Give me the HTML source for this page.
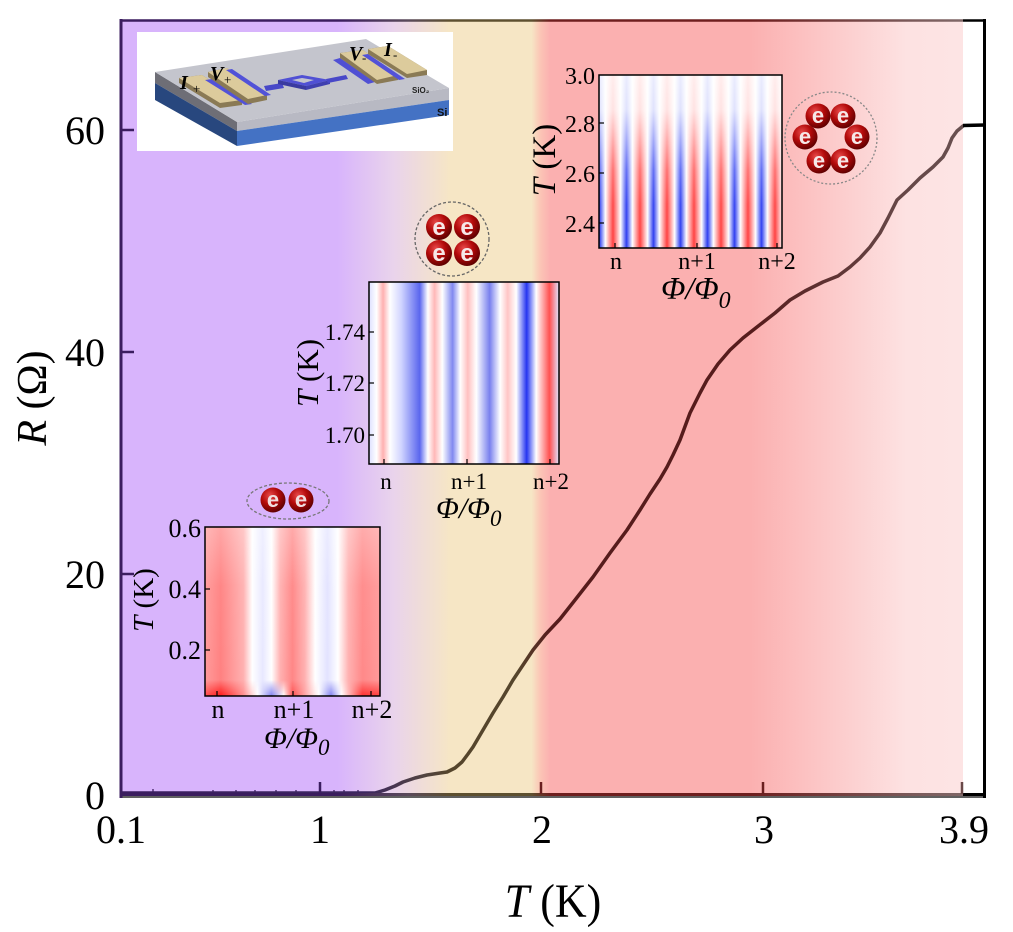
<!DOCTYPE html>
<html><head><meta charset="utf-8"><style>
html,body{margin:0;padding:0;background:#fff;}
svg{display:block;}
text{font-family:"Liberation Serif",serif;}
.s{font-family:"Liberation Sans",sans-serif;}
</style></head><body>
<svg width="1013" height="932" viewBox="0 0 1013 932" xmlns="http://www.w3.org/2000/svg">
<defs>
<linearGradient id="bg" gradientUnits="userSpaceOnUse" x1="122" y1="0" x2="963" y2="0">
 <stop offset="0" stop-color="#d8b4fc"/>
 <stop offset="0.256" stop-color="#d8b4fc"/>
 <stop offset="0.322" stop-color="#e9d3ec"/>
 <stop offset="0.39" stop-color="#f6e6c5"/>
 <stop offset="0.487" stop-color="#f6e6c5"/>
 <stop offset="0.497" stop-color="#fbc6b6"/>
 <stop offset="0.509" stop-color="#fbb0b0"/>
 <stop offset="0.747" stop-color="#fbb0b0"/>
 <stop offset="0.933" stop-color="#fde2e2"/>
 <stop offset="1" stop-color="#fde4e4"/>
</linearGradient>
<linearGradient id="ax" gradientUnits="userSpaceOnUse" x1="122" y1="0" x2="963" y2="0">
 <stop offset="0" stop-color="#3b1d5f"/>
 <stop offset="0.256" stop-color="#3b1d5f"/>
 <stop offset="0.34" stop-color="#5a4a5a"/>
 <stop offset="0.39" stop-color="#5e5030"/>
 <stop offset="0.487" stop-color="#5e5030"/>
 <stop offset="0.509" stop-color="#6e1f1f"/>
 <stop offset="0.747" stop-color="#6e1f1f"/>
 <stop offset="0.933" stop-color="#7a5858"/>
 <stop offset="1" stop-color="#806868"/>
</linearGradient>
<linearGradient id="cv" gradientUnits="userSpaceOnUse" x1="122" y1="0" x2="963" y2="0">
 <stop offset="0" stop-color="#3b1d5f"/>
 <stop offset="0.29" stop-color="#3d2860"/>
 <stop offset="0.36" stop-color="#524440"/>
 <stop offset="0.39" stop-color="#55452c"/>
 <stop offset="0.47" stop-color="#55452c"/>
 <stop offset="0.51" stop-color="#561c1c"/>
 <stop offset="0.75" stop-color="#561c1c"/>
 <stop offset="0.92" stop-color="#664646"/>
 <stop offset="1" stop-color="#685050"/>
</linearGradient>
<radialGradient id="ball" cx="0.38" cy="0.32" r="0.7">
 <stop offset="0" stop-color="#e84a4a"/>
 <stop offset="0.5" stop-color="#b30a0a"/>
 <stop offset="1" stop-color="#5e0000"/>
</radialGradient>
<linearGradient id="strp" x1="0" y1="0" x2="1" y2="0">
 <stop offset="0" stop-color="#2c3cf0"/>
 <stop offset="0.22" stop-color="#ffffff"/>
 <stop offset="0.5" stop-color="#ff4040"/>
 <stop offset="0.78" stop-color="#ffffff"/>
 <stop offset="1" stop-color="#2c3cf0"/>
</linearGradient>
<pattern id="tr" patternUnits="userSpaceOnUse" x="599.5" y="0" width="27" height="20">
 <rect x="0" y="0" width="27" height="20" fill="url(#strp)"/>
</pattern>
<linearGradient id="trfade" gradientUnits="userSpaceOnUse" x1="0" y1="75" x2="0" y2="248">
 <stop offset="0" stop-color="#fff" stop-opacity="0.9"/>
 <stop offset="0.2" stop-color="#fff" stop-opacity="0.85"/>
 <stop offset="0.35" stop-color="#fff" stop-opacity="0.6"/>
 <stop offset="0.55" stop-color="#fff" stop-opacity="0.25"/>
 <stop offset="0.75" stop-color="#fff" stop-opacity="0.05"/>
 <stop offset="1" stop-color="#fff" stop-opacity="0"/>
</linearGradient>
<linearGradient id="mid" gradientUnits="userSpaceOnUse" x1="369" y1="0" x2="559" y2="0">
 <stop offset="0" stop-color="#dde0ff"/>
 <stop offset="0.04" stop-color="#ffffff"/>
 <stop offset="0.074" stop-color="#ffb0b0"/>
 <stop offset="0.11" stop-color="#ffffff"/>
 <stop offset="0.17" stop-color="#d0d4ff"/>
 <stop offset="0.267" stop-color="#5a66ee"/>
 <stop offset="0.31" stop-color="#ffffff"/>
 <stop offset="0.345" stop-color="#ffb8b8"/>
 <stop offset="0.386" stop-color="#ffffff"/>
 <stop offset="0.44" stop-color="#8088f0"/>
 <stop offset="0.48" stop-color="#ffffff"/>
 <stop offset="0.52" stop-color="#ffc0c0"/>
 <stop offset="0.565" stop-color="#ffffff"/>
 <stop offset="0.635" stop-color="#7880ee"/>
 <stop offset="0.69" stop-color="#ffffff"/>
 <stop offset="0.73" stop-color="#ffc5c5"/>
 <stop offset="0.775" stop-color="#ffffff"/>
 <stop offset="0.83" stop-color="#2535f0"/>
 <stop offset="0.88" stop-color="#ffffff"/>
 <stop offset="0.95" stop-color="#ff5050"/>
 <stop offset="1" stop-color="#e0e4ff"/>
</linearGradient>
<linearGradient id="bot" gradientUnits="userSpaceOnUse" x1="205" y1="0" x2="380" y2="0">
 <stop offset="0" stop-color="#ff9a9a"/>
 <stop offset="0.09" stop-color="#ff8080"/>
 <stop offset="0.22" stop-color="#ffb0b0"/>
 <stop offset="0.27" stop-color="#ffffff"/>
 <stop offset="0.33" stop-color="#e8e8ff"/>
 <stop offset="0.38" stop-color="#ffffff"/>
 <stop offset="0.43" stop-color="#ffb0b0"/>
 <stop offset="0.5" stop-color="#ff8585"/>
 <stop offset="0.57" stop-color="#ffb0b0"/>
 <stop offset="0.63" stop-color="#ffffff"/>
 <stop offset="0.7" stop-color="#e2e2ff"/>
 <stop offset="0.76" stop-color="#ffffff"/>
 <stop offset="0.82" stop-color="#ffb0b0"/>
 <stop offset="0.9" stop-color="#ff8888"/>
 <stop offset="1" stop-color="#ff9999"/>
</linearGradient>
<linearGradient id="botstrong" gradientUnits="userSpaceOnUse" x1="205" y1="0" x2="380" y2="0">
 <stop offset="0" stop-color="#ff5050"/>
 <stop offset="0.09" stop-color="#ff1a1a"/>
 <stop offset="0.22" stop-color="#ff9090"/>
 <stop offset="0.3" stop-color="#ffffff"/>
 <stop offset="0.38" stop-color="#8080f0"/>
 <stop offset="0.45" stop-color="#ffffff"/>
 <stop offset="0.5" stop-color="#ff5050"/>
 <stop offset="0.58" stop-color="#ffb0b0"/>
 <stop offset="0.65" stop-color="#ffffff"/>
 <stop offset="0.72" stop-color="#8080f0"/>
 <stop offset="0.78" stop-color="#ffffff"/>
 <stop offset="0.9" stop-color="#ff3030"/>
 <stop offset="1" stop-color="#ff4040"/>
</linearGradient>
<linearGradient id="botfadeS" gradientUnits="userSpaceOnUse" x1="0" y1="680" x2="0" y2="696">
 <stop offset="0" stop-color="#fff" stop-opacity="0"/>
 <stop offset="1" stop-color="#fff" stop-opacity="1"/>
</linearGradient>
<mask id="bmask"><rect x="205" y="680" width="175" height="16" fill="url(#botfadeS)"/></mask>
<linearGradient id="botfade" gradientUnits="userSpaceOnUse" x1="0" y1="527" x2="0" y2="696">
 <stop offset="0" stop-color="#fff" stop-opacity="0.3"/>
 <stop offset="0.35" stop-color="#fff" stop-opacity="0.05"/>
 <stop offset="1" stop-color="#fff" stop-opacity="0"/>
</linearGradient>
</defs>

<!-- main background -->
<rect x="122" y="21" width="841" height="773" fill="url(#bg)"/>

<!-- device inset -->
<rect x="137" y="32" width="316" height="119" fill="#fff"/>
<polygon points="155,72 237,122 237,131 155,83" fill="#6e6e76"/>
<polygon points="155,83 237,131 237,146 155,100" fill="#28477e"/>
<polygon points="237,122 449,88 449,100 237,131" fill="#b8b9c3"/>
<polygon points="237,131 449,100 449,115 237,146" fill="#4472c4"/>
<polygon points="155,72 366,39 449,88 237,122" fill="#c4c5cd"/>
<!-- left pads -->
<polygon points="179,78 202,75 242,100 242,105 220,108 179,83" fill="#8a7a55"/>
<polygon points="179,78 202,75 242,100 220,103" fill="#dccb9c"/>
<polygon points="205,80 212,79 252,104 245,105" fill="#5252d8"/>
<polygon points="208,72 227,68 267,95 267,100 248,104 208,77" fill="#8a7a55"/>
<polygon points="208,72 227,68 267,95 248,99" fill="#dccb9c"/>
<polygon points="226,70 232,69 271,95 265,96" fill="#5252d8"/>
<!-- wires and ring -->
<polygon points="264,86 282,83 284,88 266,91" fill="#4848c8"/>
<polygon points="278,80 302,75 330,80 306,86" fill="#5050d4"/>
<polygon points="278,80 306,86 306,90 278,84" fill="#3a3aa0"/>
<polygon points="306,86 330,80 330,84 306,90" fill="#4040b0"/>
<polygon points="292,80 302,78 314,80 304,83" fill="#c4c5cd"/>
<polygon points="326,79 346,75 348,79 328,83" fill="#4848c8"/>
<polygon points="333,60 340,58 375,82 368,84" fill="#5050d4"/>
<!-- right pads -->
<polygon points="340,53 363,50 398,75 398,80 377,84 340,58" fill="#8a7a55"/>
<polygon points="340,53 363,50 398,75 377,80" fill="#dccb9c"/>
<polygon points="362,55 368,54 405,79 399,80" fill="#5252d8"/>
<polygon points="368,49 388,46 427,70 427,75 407,78 368,54" fill="#8a7a55"/>
<polygon points="368,49 388,46 427,70 407,74" fill="#dccb9c"/>
<text x="180" y="89" font-size="20" font-style="italic" font-weight="bold">I</text>
<text x="193" y="93" font-size="13">+</text>
<text x="210" y="80" font-size="20" font-style="italic" font-weight="bold">V</text>
<text x="224" y="84" font-size="13">+</text>
<text x="349" y="60" font-size="20" font-style="italic" font-weight="bold">V</text>
<text x="362" y="62" font-size="13">-</text>
<text x="384" y="56" font-size="20" font-style="italic" font-weight="bold">I</text>
<text x="393" y="59" font-size="13">-</text>
<text class="s" x="412" y="93" font-size="8" font-weight="bold" fill="#222">SiO₂</text>
<text class="s" x="437" y="116" font-size="11" font-weight="bold" fill="#111">Si</text>

<!-- top-right heatmap -->
<rect x="599" y="75" width="183" height="173" fill="url(#tr)"/>
<rect x="599" y="75" width="183" height="173" fill="url(#trfade)"/>
<rect x="599" y="75" width="183" height="173" fill="none" stroke="#000" stroke-width="1.5"/>
<g stroke="#000" stroke-width="1.2">
 <line x1="599" y1="123" x2="604" y2="123"/><line x1="599" y1="173" x2="604" y2="173"/><line x1="599" y1="223" x2="604" y2="223"/>
 <line x1="615" y1="248" x2="615" y2="243"/><line x1="697" y1="248" x2="697" y2="243"/><line x1="777" y1="248" x2="777" y2="243"/>
</g>
<g font-size="24" text-anchor="end">
 <text x="595" y="84">3.0</text><text x="595" y="132">2.8</text><text x="595" y="182">2.6</text><text x="595" y="232">2.4</text>
</g>
<g font-size="24" text-anchor="middle">
 <text x="616" y="269">n</text><text x="697" y="269">n+1</text><text x="777" y="269">n+2</text>
</g>
<text x="661" y="299" font-size="32" font-style="italic">Φ/Φ<tspan font-size="24" dy="9">0</tspan></text>
<text transform="translate(555,160) rotate(-90)" font-size="33" text-anchor="middle"><tspan font-style="italic">T</tspan> (K)</text>

<!-- 6 e cluster -->
<circle cx="831" cy="138" r="46" fill="none" stroke="#888" stroke-width="1.3" stroke-dasharray="2,2"/>
<circle cx="818" cy="116" r="12.5" fill="url(#ball)"/><circle cx="843" cy="116" r="12.5" fill="url(#ball)"/>
<circle cx="805" cy="137" r="12.5" fill="url(#ball)"/><circle cx="857" cy="137" r="12.5" fill="url(#ball)"/>
<circle cx="819" cy="161" r="12.5" fill="url(#ball)"/><circle cx="843" cy="161" r="12.5" fill="url(#ball)"/>
<g font-size="22" font-weight="bold" text-anchor="middle" fill="#f6e8e8">
<text class="s" x="818" y="123">e</text><text class="s" x="843" y="123">e</text>
<text class="s" x="805" y="144">e</text><text class="s" x="857" y="144">e</text>
<text class="s" x="819" y="168">e</text><text class="s" x="843" y="168">e</text>
</g>

<!-- 4 e cluster -->
<circle cx="452" cy="239" r="37" fill="none" stroke="#666" stroke-width="1.3" stroke-dasharray="3,2"/>
<circle cx="439" cy="227" r="13" fill="url(#ball)"/><circle cx="467" cy="227" r="13" fill="url(#ball)"/>
<circle cx="439" cy="253" r="13" fill="url(#ball)"/><circle cx="467" cy="253" r="13" fill="url(#ball)"/>
<g font-size="24" font-weight="bold" text-anchor="middle" fill="#f6e8e8">
<text class="s" x="439" y="235">e</text><text class="s" x="467" y="235">e</text>
<text class="s" x="439" y="261">e</text><text class="s" x="467" y="261">e</text>
</g>

<!-- middle heatmap -->
<rect x="369" y="282" width="190" height="182" fill="url(#mid)"/>
<rect x="369" y="282" width="190" height="182" fill="none" stroke="#000" stroke-width="1.5"/>
<g stroke="#000" stroke-width="1.2">
 <line x1="369" y1="332" x2="374" y2="332"/><line x1="369" y1="383" x2="374" y2="383"/><line x1="369" y1="435" x2="374" y2="435"/>
 <line x1="384" y1="464" x2="384" y2="459"/><line x1="467" y1="464" x2="467" y2="459"/><line x1="550" y1="464" x2="550" y2="459"/>
</g>
<g font-size="23" text-anchor="end">
 <text x="365" y="340">1.74</text><text x="365" y="391">1.72</text><text x="365" y="443">1.70</text>
</g>
<g font-size="23" text-anchor="middle">
 <text x="386" y="489">n</text><text x="469" y="489">n+1</text><text x="551" y="489">n+2</text>
</g>
<text x="436" y="518" font-size="30" font-style="italic">Φ/Φ<tspan font-size="23" dy="8">0</tspan></text>
<text transform="translate(318,373) rotate(-90)" font-size="31" text-anchor="middle"><tspan font-style="italic">T</tspan> (K)</text>

<!-- 2 e cluster -->
<ellipse cx="288" cy="501" rx="41" ry="18" fill="none" stroke="#777" stroke-width="1.3" stroke-dasharray="3,2"/>
<circle cx="273" cy="500" r="12.5" fill="url(#ball)"/><circle cx="301" cy="500" r="12.5" fill="url(#ball)"/>
<g font-size="22" font-weight="bold" text-anchor="middle" fill="#f0dede">
<text class="s" x="273" y="507">e</text><text class="s" x="301" y="507">e</text>
</g>

<!-- bottom heatmap -->
<rect x="205" y="527" width="175" height="169" fill="url(#bot)"/>
<rect x="205" y="527" width="175" height="169" fill="url(#botfade)"/>
<rect x="205" y="680" width="175" height="16" fill="url(#botstrong)" mask="url(#bmask)"/>
<rect x="205" y="527" width="175" height="169" fill="none" stroke="#000" stroke-width="1.5"/>
<g stroke="#000" stroke-width="1.2">
 <line x1="205" y1="589" x2="210" y2="589"/><line x1="205" y1="650" x2="210" y2="650"/>
 <line x1="217" y1="696" x2="217" y2="691"/><line x1="293" y1="696" x2="293" y2="691"/><line x1="371" y1="696" x2="371" y2="691"/>
</g>
<g font-size="26" text-anchor="end">
 <text x="201" y="537">0.6</text><text x="201" y="598">0.4</text><text x="201" y="659">0.2</text>
</g>
<g font-size="26" text-anchor="middle">
 <text x="218" y="718">n</text><text x="294" y="718">n+1</text><text x="372" y="718">n+2</text>
</g>
<text x="264" y="748" font-size="30" font-style="italic">Φ/Φ<tspan font-size="23" dy="7">0</tspan></text>
<text transform="translate(153,600) rotate(-90)" font-size="29" text-anchor="middle"><tspan font-style="italic">T</tspan> (K)</text>

<!-- data curve -->
<g stroke="#3b1d5f" stroke-width="1.3">
 <line x1="153" y1="793" x2="153" y2="789"/><line x1="213" y1="793" x2="213" y2="790"/><line x1="236" y1="793" x2="236" y2="790"/>
 <line x1="255" y1="793" x2="255" y2="790"/><line x1="276" y1="793" x2="276" y2="790"/><line x1="296" y1="793" x2="296" y2="790"/>
 <line x1="334" y1="793" x2="334" y2="790"/><line x1="344" y1="793" x2="344" y2="790"/><line x1="358" y1="793" x2="358" y2="790"/>
</g>
<polyline fill="none" stroke="url(#cv)" stroke-width="3.5" stroke-linejoin="round" stroke-linecap="round"
 points="122,793 375,793 385,790 395,786 403,782 415,778 427,775 440,773 447,772 455,768 462,762 468,754 473,747 483,730 493,713 503,697 513,680 523,665 533,650 545,635 560,619 575,600 593,577 610,553 627,530 640,510 650,494 660,479 667,467 673,455 680,440 690,413 700,393 707,380 718,364 730,350 743,338 757,327 775,313 790,300 805,291 823,282 838,276 850,267 860,258 870,247 880,233 888,218 897,200 908,190 920,178 933,167 943,157 948,148 952,138 957,131 963,126"/>
<line x1="963" y1="125.5" x2="985" y2="125" stroke="#000" stroke-width="3.5"/>

<!-- frame -->
<line x1="121" y1="20.5" x2="963" y2="20.5" stroke="url(#ax)" stroke-width="2.5"/>
<line x1="963" y1="20.5" x2="986" y2="20.5" stroke="#000" stroke-width="2.5"/>
<line x1="120" y1="794.5" x2="963" y2="794.5" stroke="url(#ax)" stroke-width="3"/>
<line x1="963" y1="794.5" x2="986" y2="794.5" stroke="#000" stroke-width="3"/>
<line x1="120" y1="797" x2="986" y2="797" stroke="#000" stroke-width="1.2"/>
<line x1="121" y1="19" x2="121" y2="798" stroke="#3b1d5f" stroke-width="3"/>
<line x1="984.5" y1="19" x2="984.5" y2="798" stroke="#000" stroke-width="3"/>
<!-- ticks -->
<g stroke="#3b1d5f" stroke-width="2.5">
 <line x1="121" y1="130" x2="134" y2="130"/><line x1="121" y1="352" x2="134" y2="352"/><line x1="121" y1="574" x2="134" y2="574"/>
 <line x1="320" y1="794" x2="320" y2="782"/>
</g>
<line x1="541" y1="794" x2="541" y2="782" stroke="#6a1f1f" stroke-width="2.5"/>
<line x1="763" y1="794" x2="763" y2="782" stroke="#6a1f1f" stroke-width="2.5"/>
<line x1="962" y1="794" x2="962" y2="782" stroke="#6a4848" stroke-width="2.5"/>

<!-- tick labels -->
<g font-size="40" text-anchor="end">
 <text x="105" y="144">60</text><text x="105" y="366">40</text><text x="105" y="588">20</text><text x="105" y="809">0</text>
</g>
<g font-size="40" text-anchor="middle">
 <text x="121" y="843">0.1</text><text x="320" y="843">1</text><text x="542" y="843">2</text><text x="764" y="843">3</text><text x="964" y="843">3.9</text>
</g>
<text transform="translate(553,917) scale(1,1.08)" font-size="44" text-anchor="middle"><tspan font-style="italic">T</tspan> (K)</text>
<text transform="translate(46,398) rotate(-90)" font-size="42" text-anchor="middle"><tspan font-style="italic">R</tspan> (Ω)</text>
</svg>
</body></html>
